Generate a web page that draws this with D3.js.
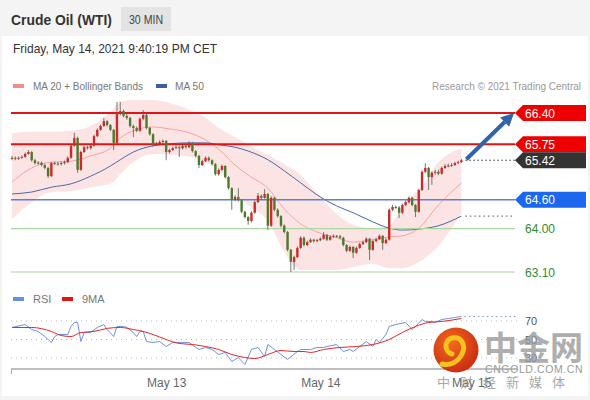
<!DOCTYPE html>
<html><head><meta charset="utf-8">
<script src="https://cdn.jsdelivr.net/npm/d3@7"></script>
<style>
html,body{margin:0;padding:0;background:#f4f4f4;}
svg{display:block;font-family:"Liberation Sans",Arial,sans-serif;}
</style></head>
<body><svg id="c" width="590" height="400"></svg>
<script>
// ---------- DATA ----------
const firstOpen = 65.45;
const closes = [
65.47,65.45,65.47,65.49,65.55,65.59,65.42,65.36,65.37,65.32,
65.26,65.09,65.36,65.35,65.34,65.36,65.38,65.47,65.72,65.88,
65.22,65.59,65.69,65.67,65.72,65.92,66.05,66.13,66.23,66.15,
66.05,65.78,66.40,66.44,66.34,66.30,66.13,66.09,66.03,66.28,
66.36,66.09,65.96,65.74,65.76,65.80,65.82,65.59,65.63,65.67,
65.69,65.67,65.72,65.69,65.78,65.61,65.51,65.32,65.40,65.47,
65.42,65.34,65.13,65.22,65.30,65.07,64.84,64.60,64.66,64.59,
64.35,64.24,64.16,64.33,64.55,64.68,64.64,64.72,64.06,64.64,
64.39,64.26,64.06,63.93,63.56,63.31,63.41,63.60,63.81,63.66,
63.72,63.77,63.74,63.76,63.79,63.87,63.77,63.83,63.85,63.84,
63.81,63.66,63.54,63.62,63.50,63.60,63.68,63.72,63.79,63.56,
63.74,63.78,63.85,63.70,63.77,64.39,64.45,64.44,64.33,64.49,
64.55,64.64,64.49,64.35,64.80,65.18,65.26,65.07,65.16,65.18,
65.14,65.26,65.30,65.31,65.32,65.36,65.38,65.42];
const highs = [
65.51,65.50,65.50,65.52,65.58,65.63,65.61,65.45,65.40,65.39,
65.35,65.28,65.38,65.39,65.38,65.39,65.41,65.50,65.75,65.99,
65.91,65.62,65.72,65.72,65.75,65.95,66.08,66.16,66.30,66.25,
66.17,66.07,66.63,66.63,66.47,66.38,66.32,66.16,66.12,66.31,
66.46,66.39,66.11,65.98,65.80,65.83,65.85,65.84,65.66,65.70,
65.73,65.72,65.75,65.75,65.81,65.80,65.63,65.53,65.43,65.50,
65.50,65.44,65.36,65.25,65.33,65.32,65.09,64.86,64.70,64.84,
64.61,64.37,64.26,64.36,64.58,64.74,64.71,64.82,64.74,64.67,
64.66,64.42,64.28,64.09,63.95,63.58,63.44,63.63,63.84,63.84,
63.75,63.80,63.79,63.79,63.82,63.93,63.89,63.86,63.88,63.87,
63.87,63.83,63.68,63.65,63.64,63.63,63.71,63.75,63.82,63.81,
63.77,63.81,63.88,63.87,63.80,64.42,64.49,64.48,64.47,64.52,
64.58,64.67,64.66,64.51,64.83,65.21,65.36,65.28,65.19,65.22,
65.22,65.29,65.34,65.35,65.36,65.39,65.41,65.45];
const lows = [
65.42,65.42,65.43,65.45,65.47,65.53,65.39,65.33,65.33,65.29,
65.23,65.05,65.07,65.32,65.31,65.31,65.33,65.36,65.45,65.70,
65.16,65.20,65.57,65.64,65.64,65.70,65.90,66.03,66.11,66.12,
66.02,65.63,65.75,66.35,66.31,66.26,66.10,65.90,66.00,66.01,
66.25,66.06,65.93,65.70,65.71,65.73,65.77,65.42,65.56,65.61,
65.65,65.49,65.64,65.66,65.67,65.58,65.48,65.26,65.30,65.38,
65.39,65.31,65.10,65.10,65.20,65.04,64.81,64.39,64.57,64.56,
64.32,64.21,64.08,64.13,64.31,64.53,64.60,64.62,63.97,64.03,
64.36,64.23,64.03,63.90,63.53,63.10,63.14,63.39,63.58,63.63,
63.64,63.70,63.71,63.72,63.74,63.77,63.74,63.75,63.81,63.81,
63.78,63.63,63.51,63.52,63.39,63.48,63.58,63.66,63.70,63.35,
63.54,63.72,63.76,63.56,63.68,63.75,64.36,64.41,64.22,64.30,
64.47,64.52,64.46,64.24,64.33,64.78,65.15,64.80,64.91,65.12,
65.11,65.12,65.24,65.27,65.28,65.30,65.34,65.36];
const opens = [firstOpen].concat(closes.slice(0, -1));

// indicator samples (candle index -> value)
const indIdx   = [0,6,12,18,24,30,33,37,43,48,53,59,63,68,72,78,83,88,93,99,104,110,115,119,124,130,137];
const ma20     = [64.97,65.26,65.38,65.40,65.51,65.67,65.88,66.03,66.11,66.07,66.01,65.84,65.65,65.32,65.11,64.84,64.41,64.10,63.93,63.81,63.72,63.77,63.83,63.85,64.01,64.49,64.95];
const bbUpper  = [65.98,66.01,66.01,66.03,66.13,66.42,66.63,66.67,66.67,66.61,66.50,66.30,66.09,65.90,65.74,65.53,65.34,65.11,64.74,64.30,64.08,64.01,64.06,64.49,64.80,65.38,65.67];
const bbLower  = [64.20,64.55,64.76,64.78,64.86,64.93,65.13,65.38,65.55,65.53,65.51,65.38,65.22,64.74,64.49,64.16,63.52,63.14,63.14,63.14,63.20,63.27,63.18,63.18,63.31,63.64,64.33];
const ma50     = [64.72,64.76,64.86,64.93,65.09,65.30,65.43,65.59,65.72,65.76,65.78,65.78,65.74,65.69,65.61,65.43,65.20,64.95,64.70,64.47,64.33,64.14,64.01,63.97,63.99,64.06,64.26];

// RSI samples
const rsiIdx = [0,4,6,8,10,12,13,14,17,18,19,20,21,22,24,26,28,29,31,32,34,35,37,38,39,40,41,43,45,47,49,52,54,56,57,59,61,63,65,67,69,71,73,75,77,78,80,82,84,87,88,91,93,95,96,99,101,103,104,106,108,110,111,112,114,115,117,120,122,123,125,126,128,129,131,133,135,137];
const rsi    = [63.0,66.2,60.8,58.7,53.2,46.8,53.2,55.4,55.4,64.1,68.4,68.4,47.8,57.6,57.6,63.0,66.2,60.8,53.2,64.1,64.1,63.0,57.6,53.2,58.7,58.7,47.8,46.8,47.8,42.4,46.8,46.8,46.8,41.4,39.2,41.4,39.2,33.8,36.0,26.2,30.5,22.9,39.2,41.4,31.6,44.6,39.2,33.8,28.4,37.0,39.2,39.2,41.4,41.4,42.4,44.6,37.0,39.2,37.0,42.4,47.8,42.4,50.0,46.8,55.4,64.1,66.2,68.4,60.8,64.1,71.6,69.5,69.5,68.4,71.6,72.7,73.8,74.9];
const maIdx  = [0,6,12,15,18,21,25,29,33,37,40,43,47,51,55,59,63,67,71,74,78,82,86,89,91,95,100,105,110,115,119,123,127,131,137];
const rsiMA  = [63.0,63.0,58.7,54.3,53.2,57.6,58.7,62.0,63.0,60.8,58.7,55.4,50.0,45.7,44.6,42.4,39.2,33.8,30.5,29.4,33.8,38.1,37.0,37.0,36.0,39.2,41.4,42.4,44.6,50.0,57.6,64.1,68.4,69.5,72.7];
const rsiLevels = [70, 50, 30];

// key levels
const resistances = [66.40, 65.75];
const lastPrice = 65.42;
const pivot = 64.60;
const supports = [64.00, 63.10];
const targetPrice = 66.40;

const dayLabels = ["May 13", "May 14", "May 15"];
const dayStartIdx = [47, 94, 140];

// ---------- DRAW ----------
const svg = d3.select("#c");
const N = closes.length;
const x = d3.scaleLinear().domain([0, N - 1]).range([12, 461.4]);
const y = d3.scaleLinear().domain([63.10, 66.40]).range([272, 113]);
const yr = d3.scaleLinear().domain([30, 70]).range([358, 321]);
const L = 11, R = 515;

svg.append("rect").attr("x",2).attr("y",36).attr("width",586).attr("height",360).attr("fill","#fff");

function fitText(sel, w){ return sel.attr("textLength", w).attr("lengthAdjust","spacingAndGlyphs"); }

// header
fitText(svg.append("text").attr("x",11).attr("y",25).attr("font-size",15.5).attr("font-weight","bold").attr("fill","#333").text("Crude Oil (WTI)"), 101);
svg.append("rect").attr("x",121).attr("y",7).attr("width",50).attr("height",24).attr("fill","#e3e3e3");
fitText(svg.append("text").attr("x",129).attr("y",24).attr("font-size",13).attr("fill","#444").text("30 MIN"), 34);
fitText(svg.append("text").attr("x",13).attr("y",53).attr("font-size",13).attr("fill","#333").text("Friday, May 14, 2021 9:40:19 PM CET"), 204);

// legend
svg.append("rect").attr("x",13).attr("y",84).attr("width",11).attr("height",4).attr("fill","#f28b8b");
fitText(svg.append("text").attr("x",33).attr("y",90).attr("font-size",11).attr("fill","#777").text("MA 20 + Bollinger Bands"), 110);
svg.append("rect").attr("x",156).attr("y",84).attr("width",11).attr("height",4).attr("fill","#3d5f9e");
fitText(svg.append("text").attr("x",175).attr("y",90).attr("font-size",11).attr("fill","#777").text("MA 50"), 29);
fitText(svg.append("text").attr("x",432).attr("y",90).attr("font-size",11).attr("fill","#999").text("Research \u00a9 2021 Trading Central"), 149);

// bollinger
const ind = indIdx.map((d,i)=>({i:d, u:bbUpper[i], l:bbLower[i], m:ma20[i], m50:ma50[i]}));
svg.append("path").datum(ind).attr("fill","#fde1e1").attr("opacity",0.9)
  .attr("d", d3.area().curve(d3.curveMonotoneX).x(d=>x(d.i)).y0(d=>y(d.l)).y1(d=>y(d.u)));
svg.append("path").datum(ind).attr("fill","none").attr("stroke","#f4a3a3").attr("stroke-width",1)
  .attr("d", d3.line().curve(d3.curveMonotoneX).x(d=>x(d.i)).y(d=>y(d.m)));
svg.append("path").datum(ind).attr("fill","none").attr("stroke","#4a6aa8").attr("stroke-width",1)
  .attr("d", d3.line().curve(d3.curveMonotoneX).x(d=>x(d.i)).y(d=>y(d.m50)));
svg.append("line").attr("x1",x(N-1)+4).attr("x2",R).attr("y1",y(ma50[ma50.length-1])).attr("y2",y(ma50[ma50.length-1]))
  .attr("stroke","#555").attr("stroke-dasharray","1.5,3");

// level lines
supports.forEach(v=>{
  svg.append("line").attr("x1",L).attr("x2",R).attr("y1",y(v)).attr("y2",y(v)).attr("stroke","#a9d8a2").attr("stroke-width",1.2);
  svg.append("text").attr("x",525).attr("y",y(v)+4.5).attr("font-size",12).attr("fill","#2e8b2e").text(v.toFixed(2));
});
svg.append("line").attr("x1",L).attr("x2",R).attr("y1",y(pivot)).attr("y2",y(pivot)).attr("stroke","#5d7fcf").attr("stroke-width",1.5);
resistances.forEach(v=>{
  svg.append("line").attr("x1",L).attr("x2",R).attr("y1",y(v)).attr("y2",y(v)).attr("stroke","#e01414").attr("stroke-width",2);
});

// candles
const candles = closes.map((c,i)=>({i, o:opens[i], h:highs[i], l:lows[i], c}));
const bw = 2.4;
const g = svg.append("g");
g.selectAll(".wick").data(candles).join("line")
  .attr("x1",d=>x(d.i)).attr("x2",d=>x(d.i)).attr("y1",d=>y(d.h)).attr("y2",d=>y(d.l))
  .attr("stroke","#555").attr("stroke-width",0.8);
g.selectAll(".body").data(candles).join("rect")
  .attr("x",d=>x(d.i)-bw/2).attr("width",bw)
  .attr("y",d=>y(Math.max(d.o,d.c))).attr("height",d=>Math.max(1,Math.abs(y(d.o)-y(d.c))))
  .attr("fill",d=>d.c>=d.o?"#cc2a2a":"#4e7a2c");

// last price dotted
svg.append("line").attr("x1",x(N-1)+4).attr("x2",R).attr("y1",y(lastPrice)).attr("y2",y(lastPrice))
  .attr("stroke","#333").attr("stroke-dasharray","1.5,2.5");

// arrow
const ax1 = x(N-1)+5, ay1 = y(lastPrice)-1, ax2 = 514, ay2 = y(targetPrice);
const ang = Math.atan2(ay2-ay1, ax2-ax1);
const hl = 13, hw = 6.5;
const bx = ax2 - hl*Math.cos(ang), by = ay2 - hl*Math.sin(ang);
svg.append("line").attr("x1",ax1).attr("y1",ay1).attr("x2",bx).attr("y2",by).attr("stroke","#2f63aa").attr("stroke-width",4);
svg.append("path").attr("fill","#2f63aa").attr("d",
  `M${ax2},${ay2} L${bx+hw*Math.sin(ang)},${by-hw*Math.cos(ang)} L${bx-hw*Math.sin(ang)},${by+hw*Math.cos(ang)} Z`);

// label boxes
function tag(v, col){
  const cy = y(v);
  svg.append("path").attr("fill",col).attr("d",`M${R},${cy} L${R+8},${cy-8} L586,${cy-8} L586,${cy+8} L${R+8},${cy+8} Z`);
  svg.append("text").attr("x",525).attr("y",cy+4.5).attr("font-size",12).attr("fill","#fff").text(v.toFixed(2));
}
resistances.forEach(v=>tag(v,"#ee0000"));
tag(lastPrice,"#333333");
tag(pivot,"#1c67ee");

// RSI panel
svg.append("rect").attr("x",13).attr("y",297).attr("width",11).attr("height",4).attr("fill","#6a8fdc");
svg.append("text").attr("x",33).attr("y",303).attr("font-size",11).attr("fill","#777").text("RSI");
svg.append("rect").attr("x",62).attr("y",297).attr("width",11).attr("height",4).attr("fill","#e01414");
svg.append("text").attr("x",82).attr("y",303).attr("font-size",11).attr("fill","#777").text("9MA");
rsiLevels.forEach(v=>{
  svg.append("line").attr("x1",L).attr("x2",517).attr("y1",yr(v)).attr("y2",yr(v)).attr("stroke","#bbb").attr("stroke-dasharray","1,4");
  svg.append("text").attr("x",525).attr("y",yr(v)+4).attr("font-size",11).attr("fill","#555").text(v);
});
const rsiPts = rsiIdx.map((d,i)=>({i:d,v:rsi[i]}));
const maPts = maIdx.map((d,i)=>({i:d,v:rsiMA[i]}));
svg.append("path").datum(rsiPts).attr("fill","none").attr("stroke","#7092e0").attr("stroke-width",1)
  .attr("d", d3.line().x(d=>x(d.i)).y(d=>yr(d.v)));
svg.append("path").datum(maPts).attr("fill","none").attr("stroke","#e02828").attr("stroke-width",1)
  .attr("d", d3.line().curve(d3.curveMonotoneX).x(d=>x(d.i)).y(d=>yr(d.v)));
svg.append("line").attr("x1",x(N-1)+3).attr("x2",517).attr("y1",yr(rsi[rsi.length-1])).attr("y2",yr(rsi[rsi.length-1]))
  .attr("stroke","#7092e0").attr("stroke-dasharray","1.5,3");

// x axis
const xa = svg.append("g").attr("transform","translate(0,369)")
  .call(d3.axisBottom(x).tickValues(dayStartIdx).tickFormat((d,i)=>dayLabels[i]).tickSize(0).tickPadding(9));
xa.select(".domain").remove();
xa.selectAll("text").attr("font-size",12).attr("fill","#666").attr("font-family","Liberation Sans, Arial, sans-serif");
svg.append("line").attr("x1",L).attr("x2",517).attr("y1",369).attr("y2",369).attr("stroke","#aaa").attr("stroke-width",1.5);
svg.append("line").attr("x1",L+0.5).attr("x2",L+0.5).attr("y1",369).attr("y2",374).attr("stroke","#aaa");

// watermark
const wm = svg.append("g");
const grad = svg.append("defs").append("radialGradient").attr("id","wg").attr("cx","40%").attr("cy","35%").attr("r","70%");
grad.append("stop").attr("offset","0%").attr("stop-color","#f26a1e");
grad.append("stop").attr("offset","100%").attr("stop-color","#c92a10");
wm.append("circle").attr("cx",456).attr("cy",350).attr("r",22.5).attr("fill","url(#wg)");
wm.append("path").attr("fill","none").attr("stroke","#f7c21b").attr("stroke-width",5).attr("stroke-linecap","round")
  .attr("d","M452,354 C444,352 444,340 452,338 C462,336 466,346 462,354 C458,362 450,366 442,364");
wm.append("text").attr("x",484).attr("y",360).attr("font-size",33).attr("font-weight","bold").attr("fill","#9a9a9a").attr("opacity",0.8)
  .attr("font-family","Noto Sans CJK SC").text("中金网");
wm.append("text").attr("x",485).attr("y",373).attr("font-size",10.5).attr("fill","#9a9a9a").attr("letter-spacing",0.6).text("CNGOLD.COM.CN");
wm.append("text").attr("x",437).attr("y",387).attr("font-size",13).attr("fill","#9a9a9a").attr("opacity",0.85).attr("letter-spacing",10)
  .attr("font-family","Noto Sans CJK SC").text("中财经新媒体");
</script></body></html>
